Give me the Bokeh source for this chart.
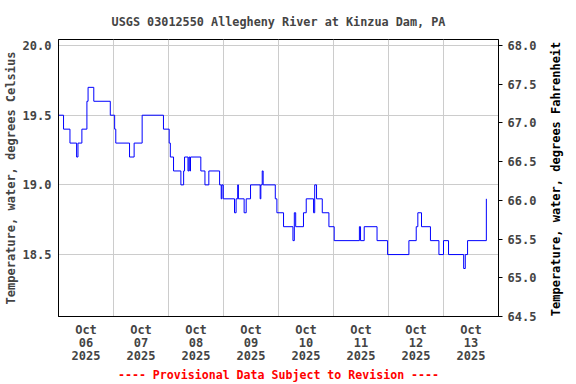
import math
from bokeh.plotting import figure
from bokeh.models import Range1d, LinearAxis, FixedTicker, PrintfTickFormatter
from bokeh.embed import file_html
from bokeh.resources import INLINE

title_text = "USGS 03012550 Allegheny River at Kinzua Dam, PA"
footer_text = "---- Provisional Data Subject to Revision ----"
ylabel_c = "Temperature, water, degrees Celsius"
ylabel_f = "Temperature, water, degrees Fahrenheit"

# hours since 2025-10-06 00:00 at which the reading changes, and the new reading (deg C)
hours = [0.0, 2.2, 5.0, 7.9, 8.5, 10.2, 12.4, 12.9, 15.4, 22.6,
         24.5, 25.0, 31.0, 33.0, 36.5, 45.8, 48.3, 48.8, 50.2, 53.4,
         54.6, 55.0, 56.5, 56.9, 57.3, 57.6, 62.1, 63.9, 65.6, 70.3,
         71.0, 71.3, 71.9, 76.8, 77.5, 78.2, 78.5, 81.0, 81.9, 83.8,
         88.0, 88.3, 88.9, 89.3, 94.6, 95.3, 98.2, 102.3, 102.9, 103.5,
         106.9, 108.1, 111.3, 111.8, 112.6, 115.1, 118.0, 120.3, 131.3, 131.8,
         133.4, 139.0, 143.6, 152.9, 156.1, 156.8, 158.4, 162.3, 166.0, 168.0,
         170.2, 176.8, 177.5, 178.5, 186.7]
temps_c = [19.5, 19.4, 19.3, 19.2, 19.3, 19.4, 19.6, 19.7, 19.6, 19.5,
           19.4, 19.3, 19.2, 19.3, 19.5, 19.4, 19.3, 19.2, 19.1, 19.0,
           19.1, 19.2, 19.1, 19.2, 19.1, 19.2, 19.1, 19.0, 19.1, 19.0,
           18.9, 19.0, 18.9, 18.8, 18.9, 19.0, 18.9, 18.8, 18.9, 19.0,
           18.9, 19.0, 19.1, 19.0, 18.9, 18.8, 18.7, 18.6, 18.8, 18.7,
           18.8, 18.9, 18.8, 19.0, 18.9, 18.8, 18.7, 18.6, 18.7, 18.6,
           18.7, 18.6, 18.5, 18.6, 18.7, 18.8, 18.7, 18.6, 18.5, 18.6,
           18.5, 18.4, 18.5, 18.6, 18.9]

day_label_hours = [12, 36, 60, 84, 108, 132, 156, 180]
day_labels = ["Oct\n06\n2025", "Oct\n07\n2025", "Oct\n08\n2025", "Oct\n09\n2025",
              "Oct\n10\n2025", "Oct\n11\n2025", "Oct\n12\n2025", "Oct\n13\n2025"]
grid_hours = [24, 48, 72, 96, 120, 144, 168]
c_ticks = [18.5, 19.0, 19.5, 20.0]
f_ticks = [64.5, 65.0, 65.5, 66.0, 66.5, 67.0, 67.5, 68.0]

FONT = "DejaVu Sans Mono"
FS = "12px"

x_lo, x_hi = 0, 192
f_lo, f_hi = 64.5, 68.078
c_lo, c_hi = (f_lo - 32) / 1.8, (f_hi - 32) / 1.8
p = figure(width=576, height=384, output_backend="svg", toolbar_location=None,
           x_range=Range1d(x_lo, x_hi), y_range=Range1d(c_lo, c_hi),
           min_border_left=58, min_border_right=78, min_border_top=39, min_border_bottom=68)
p.extra_y_ranges = {"f": Range1d(f_lo, f_hi), "t": Range1d(-0.001, 1)}

p.title.text = title_text
p.title.align = "center"
p.title.text_font = FONT
p.title.text_font_size = "11.8px"
p.title.text_font_style = "bold"
p.title.standoff = 21

p.outline_line_color = "black"
p.outline_line_alpha = 1.0
p.background_fill_color = "white"
p.border_fill_color = "white"

# x axis
xa = p.xaxis[0]
xa.ticker = FixedTicker(ticks=day_label_hours)
xa.major_label_overrides = {h: lab for h, lab in zip(day_label_hours, day_labels)}
xa.major_tick_in = 0
xa.major_tick_out = 0
xa.minor_tick_line_color = None
xa.axis_line_color = "black"
xa.axis_line_width = 1
xa.major_label_text_font = FONT
xa.major_label_text_font_size = FS
xa.major_label_text_font_style = "bold"
xa.major_label_text_line_height = 0.93
xa.major_label_standoff = 6
xa.axis_label = footer_text
xa.axis_label_text_color = "red"
xa.axis_label_text_font = FONT
xa.axis_label_text_font_size = "11.6px"
xa.axis_label_text_font_style = "bold"
xa.axis_label_standoff = 2

# left axis
ya = p.yaxis[0]
ya.ticker = FixedTicker(ticks=c_ticks)
ya.formatter = PrintfTickFormatter(format="%.1f")
ya.major_tick_in = 0
ya.major_tick_out = 0
ya.minor_tick_line_color = None
ya.axis_line_color = "black"
ya.major_label_text_font = FONT
ya.major_label_text_font_size = FS
ya.major_label_text_font_style = "bold"
ya.major_label_standoff = 7
ya.axis_label = ylabel_c
ya.axis_label_text_font = FONT
ya.axis_label_text_font_size = FS
ya.axis_label_text_font_style = "bold"
ya.axis_label_standoff = 2

# right axis: Fahrenheit ticks and labels
fa = LinearAxis(y_range_name="f", ticker=FixedTicker(ticks=f_ticks),
                formatter=PrintfTickFormatter(format="%.1f"))
fa.major_tick_in = 0
fa.major_tick_out = 4
fa.minor_tick_line_color = None
fa.axis_line_color = "black"
fa.major_label_text_font = FONT
fa.major_label_text_font_size = FS
fa.major_label_text_font_style = "bold"
fa.major_label_standoff = 5
p.add_layout(fa, "right")

# right axis title, reading bottom-to-top (drawn as a single rotated tick label)
ta = LinearAxis(y_range_name="t", ticker=FixedTicker(ticks=[0]))
ta.major_label_overrides = {0: ylabel_f}
ta.major_label_orientation = math.pi / 2
ta.axis_line_color = None
ta.major_tick_line_color = None
ta.minor_tick_line_color = None
ta.major_label_text_font = FONT
ta.major_label_text_font_size = FS
ta.major_label_text_font_style = "bold"
ta.major_label_text_color = "black"
ta.major_label_standoff = 11
p.add_layout(ta, "right")

p.xgrid.ticker = FixedTicker(ticks=grid_hours)
p.ygrid.ticker = FixedTicker(ticks=c_ticks)
p.xgrid.grid_line_color = "#cccccc"
p.ygrid.grid_line_color = "#cccccc"

p.step(hours, temps_c, mode="after", line_color="blue", line_width=1)

open("out.html", "w").write(file_html(p, INLINE))
